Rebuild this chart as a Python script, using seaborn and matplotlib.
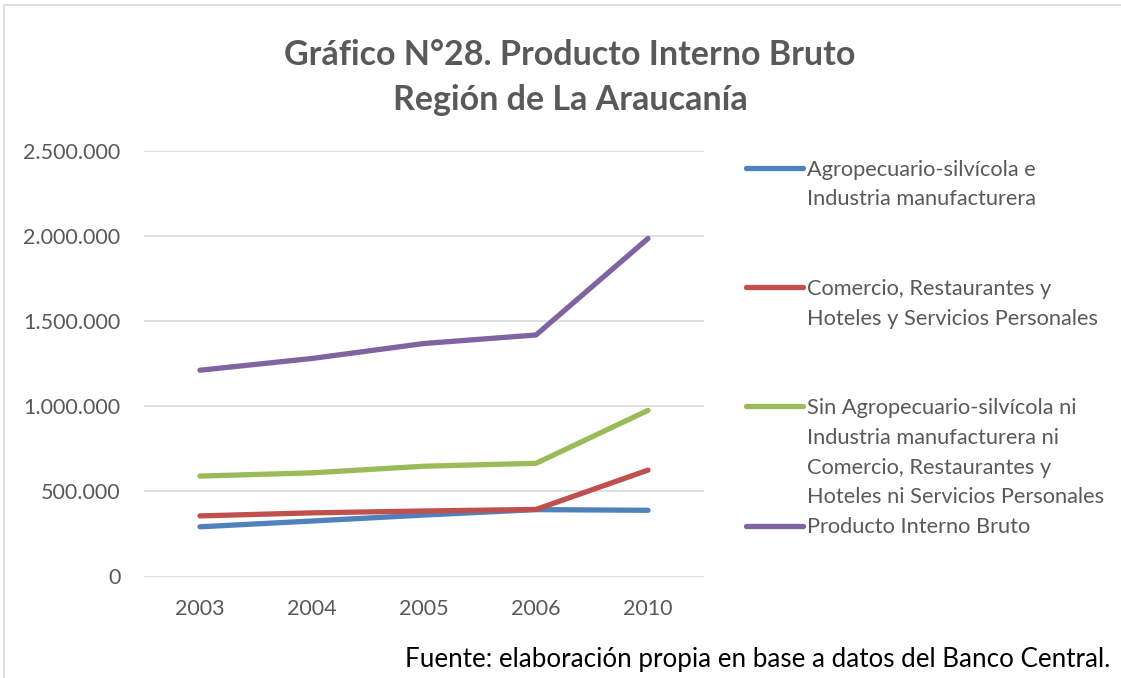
"""Gráfico N°28: Producto Interno Bruto, Región de La Araucanía"""

import matplotlib
matplotlib.use("Agg")
import matplotlib.pyplot as plt
from matplotlib.lines import Line2D
from matplotlib.patches import Rectangle
from matplotlib.ticker import FuncFormatter
import pandas as pd
import seaborn as sns

# datos (millones de pesos)
anios = ["2003", "2004", "2005", "2006", "2010"]
agro_industria = [292000, 326000, 361000, 393000, 389000]
comercio = [356000, 374000, 385000, 394000, 625000]
resto = [590000, 609000, 648000, 665000, 976000]
pib = [1212000, 1281000, 1369000, 1419000, 1986000]

series = {
    "Agropecuario-silvícola e\nIndustria manufacturera": agro_industria,
    "Comercio, Restaurantes y\nHoteles y Servicios Personales": comercio,
    "Sin Agropecuario-silvícola ni\nIndustria manufacturera ni\nComercio, Restaurantes y\nHoteles ni Servicios Personales": resto,
    "Producto Interno Bruto": pib,
}
colores = ["#4F81BD", "#C0504D", "#9BBB59", "#8064A2"]

df = pd.concat(
    [pd.DataFrame({"anio": anios, "valor": v, "serie": k}) for k, v in series.items()],
    ignore_index=True,
)

sns.set_theme(style="white")
plt.rcParams["font.family"] = ["Lato", "DejaVu Sans"]

gris = "#595959"
fig = plt.figure(figsize=(11.21, 6.78), dpi=100)
ax = fig.add_axes([144 / 1121, 1 - 576.5 / 678, 560 / 1121, 425.5 / 678])

sns.lineplot(data=df, x="anio", y="valor", hue="serie", palette=colores,
             sort=False, linewidth=3.8, ax=ax, legend=False,
             solid_capstyle="round", solid_joinstyle="round")

ax.set_xlim(-0.5, 4.5)
ax.set_ylim(0, 2500000)
ax.set_yticks(range(0, 2500001, 500000))
ax.yaxis.set_major_formatter(FuncFormatter(lambda v, p: f"{int(v):,}".replace(",", ".")))
ax.grid(axis="y", color="#D9D9D9", linewidth=1.2)
ax.set_axisbelow(True)
for s in ax.spines.values():
    s.set_visible(False)
ax.tick_params(axis="both", length=0, labelsize=15.5, labelcolor=gris)
ax.tick_params(axis="y", pad=17)
ax.tick_params(axis="x", pad=16)
ax.set_xlabel("")
ax.set_ylabel("")

fig.text(570 / 1121, 1 - 77.5 / 678, "Gráfico N°28. Producto Interno Bruto\nRegión de La Araucanía",
         ha="center", va="center", fontsize=24.5, fontweight="bold", color=gris,
         linespacing=1.47)

# leyenda: una fila por línea de texto para reproducir el espaciado de Excel
handles, labels = [], []
vacio = Line2D([], [], color="none")
for (nombre, color), extra in zip(zip(series.keys(), colores), [2, 2, 0, 0]):
    lineas = nombre.split("\n")
    handles.append(Line2D([], [], color=color, linewidth=3.8, solid_capstyle="round"))
    labels.append(lineas[0])
    for l in lineas[1:]:
        handles.append(vacio)
        labels.append(l)
    for _ in range(extra):
        handles.append(vacio)
        labels.append(" ")
leg = fig.legend(handles, labels, loc="upper left",
                 bbox_to_anchor=(746 / 1121, 1 - 159.5 / 678),
                 frameon=False, fontsize=15.7, handlelength=2.6, handletextpad=0.18,
                 labelspacing=0.45, borderpad=0, borderaxespad=0)
for t in leg.get_texts():
    t.set_color(gris)

fig.text(1110 / 1121, 1 - 660 / 678,
         "Fuente: elaboración propia en base a datos del Banco Central.",
         ha="right", va="center", fontsize=18.7, color="black")

# borde del área del gráfico
fig.patches.append(Rectangle((4 / 1121, -0.1), 1.2, 1 - 5 / 678 + 0.1,
                             transform=fig.transFigure, fill=False,
                             edgecolor="#D9D9D9", linewidth=1.2))

fig.savefig("out.png", dpi=100)
